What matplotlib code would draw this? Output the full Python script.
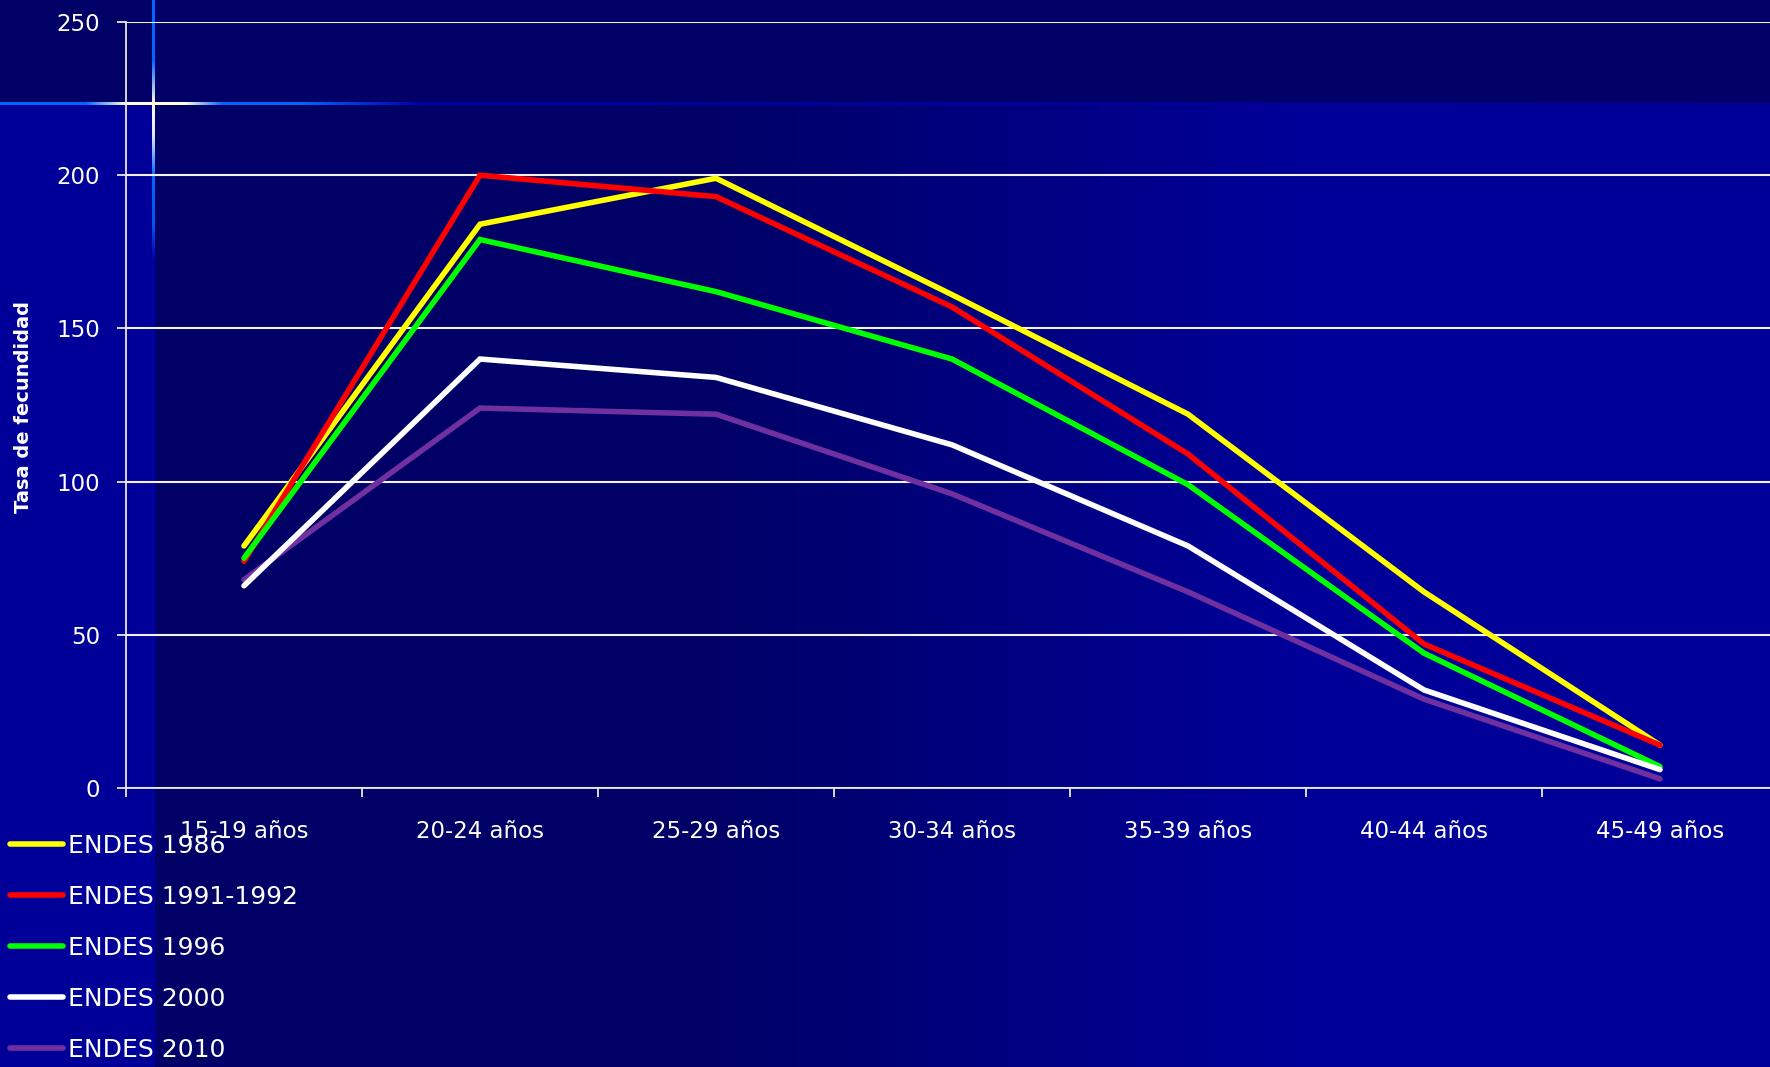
import numpy as np
import matplotlib
matplotlib.use('Agg')
import matplotlib.pyplot as plt

# Tasa de fecundidad por grupo de edad (ENDES)
grupos = ['15-19 años', '20-24 años', '25-29 años', '30-34 años',
          '35-39 años', '40-44 años', '45-49 años']
endes_1986 = [79, 184, 199, 161, 122, 64, 14]
endes_1991 = [74, 200, 193, 157, 109, 47, 14]
endes_1996 = [75, 179, 162, 140, 99, 44, 7]
endes_2000 = [66, 140, 134, 112, 79, 32, 6]
endes_2010 = [68, 124, 122, 96, 64, 29, 3]

series = [
    ('ENDES 1986', endes_1986, '#FFFF00', 3),
    ('ENDES 1991-1992', endes_1991, '#FF0000', 4),
    ('ENDES 1996', endes_1996, '#00FF00', 5),
    ('ENDES 2000', endes_2000, '#FFFFFF', 7),
    ('ENDES 2010', endes_2010, '#7030A0', 6),
]

W, H = 1770, 1067
plt.rcParams['font.family'] = ['DejaVu Sans']


# Slide background (dark blue with light flare)
def interp_colors(n, keys):
    pos = [k[0] for k in keys]
    out = np.zeros((n, 3))
    for c in range(3):
        out[:, c] = np.interp(np.arange(n), pos, [k[1][c] for k in keys])
    return out / 255.0


bg = np.zeros((H, W, 3))
grad = interp_colors(W, [(0, (0, 0, 0x66)), (700, (0, 0, 0x66)),
                         (1300, (0, 0, 0x99)), (W, (0, 0, 0x99))])
bg[:, :, :] = grad[None, :, :]
bg[105:, :152, :] = np.array([0, 0, 0x99]) / 255.0
bg[:105, :, :] = np.array([0, 0, 0x66]) / 255.0

hline = interp_colors(W, [(0, (0, 0x66, 0xFF)), (85, (0, 0x66, 0xFF)),
                          (125, (0xFF, 0xFF, 0xE0)), (185, (0xFF, 0xFF, 0xE0)),
                          (222, (0, 0x66, 0xFF)), (300, (0, 0x66, 0xFF)),
                          (420, (0, 0, 0xAA)), (W, (0, 0, 0x88))])
bg[102:105, :, :] = hline[None, :, :]
vline = interp_colors(H, [(0, (0, 0x66, 0xFF)), (60, (0, 0x66, 0xFF)),
                          (103, (0xFF, 0xFF, 0xE0)), (135, (0xE0, 0xE8, 0xFF)),
                          (175, (0, 0x66, 0xFF)), (225, (0, 0x55, 0xEE)),
                          (258, (0, 0, 0xAA)), (H, (0, 0, 0xA0))])
bg[:, 152:155, :] = vline[:, None, :]
bg[102:105, 152:155, :] = np.array([0xFF, 0xFF, 0xE8]) / 255.0

fig = plt.figure(figsize=(W / 100, H / 100), dpi=100)
bax = fig.add_axes([0, 0, 1, 1], zorder=-1)
bax.imshow(bg, aspect='auto', interpolation='nearest')
bax.axis('off')

# Main chart
ax = fig.add_axes([126 / W, 1 - 788 / H, 1652 / W, 766 / H])
ax.set_facecolor('none')
x = np.arange(len(grupos))
for label, vals, color, z in series:
    ax.plot(x, vals, color=color, lw=4.0, label=label, zorder=z,
            solid_capstyle='round', solid_joinstyle='miter')

ax.set_xlim(-0.5, len(grupos) - 0.5)
ax.set_ylim(0, 250)
ax.set_yticks(np.arange(0, 251, 50))
ax.yaxis.grid(True, color='#F2F2F2', lw=1.5)
ax.set_axisbelow(True)

ax.set_xticks(np.arange(-0.5, len(grupos), 1.0))
ax.set_xticklabels([])
ax.set_xticks(x, minor=True)
ax.set_xticklabels(grupos, minor=True)
ax.tick_params(axis='x', which='major', length=6.5, width=1.3, color='#E8E8E8', direction='out')
ax.tick_params(axis='x', which='minor', length=0, pad=23, labelsize=16.5, labelcolor='white')
ax.tick_params(axis='y', length=6.5, width=1.3, color='#E8E8E8', pad=12,
               labelsize=16.5, labelcolor='white')

for side in ['top', 'right']:
    ax.spines[side].set_visible(False)
for side in ['left', 'bottom']:
    ax.spines[side].set_color('#E8E8E8')
    ax.spines[side].set_linewidth(1.3)

fig.text(24 / W, 1 - 407 / H, 'Tasa de fecundidad', rotation=90, color='white',
         fontsize=14, fontweight='bold', ha='center', va='center')

handles, labels = ax.get_legend_handles_labels()
leg = fig.legend(handles, labels, loc='upper left', bbox_to_anchor=(10 / W, 1 - 834 / H),
                 frameon=False, fontsize=18, labelcolor='white', handlelength=2.1,
                 handletextpad=0.2, labelspacing=1.08, borderpad=0, borderaxespad=0)
for line in leg.get_lines():
    line.set_linewidth(4.0)

fig.savefig('out.png', dpi=100)
